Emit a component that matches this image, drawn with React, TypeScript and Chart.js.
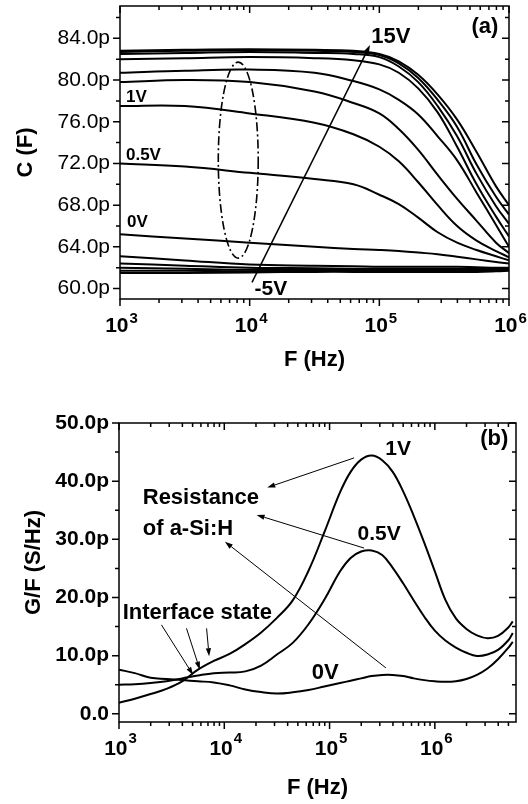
import React, { useEffect, useRef } from "react";
import { Chart, registerables } from "chart.js";

Chart.register(...registerables);

const FONT = '"Liberation Sans", Arial, Helvetica, sans-serif';

// ---------------- Panel (a): C vs F ----------------
const freqA = [1000, 3162, 10000, 31623, 63096, 100000, 141254, 199526, 281838, 398107, 562341, 794328, 1000000];
const cap15V = [82.8, 82.9, 82.95, 82.9, 82.8, 82.5, 81.8, 80.5, 78.6, 76.2, 73.1, 69.8, 68.0];
const capHigh2 = [82.7, 82.8, 82.85, 82.8, 82.7, 82.4, 81.6, 80.2, 78.1, 75.5, 71.9, 68.8, 67.1];
const capHigh3 = [82.5, 82.6, 82.7, 82.6, 82.5, 82.2, 81.3, 79.8, 77.5, 74.6, 71.0, 67.9, 66.2];
const capHigh4 = [82.0, 82.1, 82.2, 82.1, 81.9, 81.5, 80.7, 79.2, 76.9, 73.6, 70.0, 66.9, 65.0];
const capHigh5 = [80.7, 80.9, 81.0, 80.7, 79.9, 79.1, 78.1, 76.7, 74.6, 72.3, 69.2, 66.1, 64.0];
const capHigh6 = [79.8, 80.0, 79.8, 78.9, 77.8, 76.8, 75.3, 73.3, 70.9, 68.6, 66.5, 64.4, 63.4];
const cap1V = [77.5, 77.5, 76.8, 75.9, 74.8, 73.6, 72.2, 70.2, 68.0, 66.0, 64.6, 63.6, 63.0];
const cap05V = [72.0, 71.7, 71.1, 70.5, 70.0, 69.0, 68.1, 66.8, 65.4, 64.4, 63.7, 63.1, 62.7];
const cap0V = [65.2, 64.8, 64.4, 64.0, 63.8, 63.7, 63.6, 63.45, 63.3, 63.05, 62.8, 62.55, 62.4];
const capNeg1 = [63.1, 62.7, 62.3, 62.2, 62.15, 62.1, 62.1, 62.1, 62.1, 62.1, 62.05, 62.0, 62.0];
const capNeg2 = [62.4, 62.2, 62.0, 61.95, 61.9, 61.9, 61.9, 61.9, 61.9, 61.9, 61.9, 61.9, 61.95];
const capNeg3 = [62.0, 61.9, 61.8, 61.8, 61.8, 61.8, 61.8, 61.8, 61.8, 61.8, 61.8, 61.8, 61.85];
const capNeg4 = [61.7, 61.7, 61.65, 61.7, 61.7, 61.7, 61.7, 61.7, 61.7, 61.7, 61.7, 61.7, 61.8];
const capNeg5V = [61.5, 61.5, 61.55, 61.6, 61.6, 61.6, 61.6, 61.6, 61.6, 61.6, 61.6, 61.65, 61.7];
const capNamesA = ["15V", "bias 2", "bias 3", "bias 4", "bias 5", "bias 6", "1V", "0.5V", "0V", "bias -1", "bias -2", "bias -3", "bias -4", "-5V"];
const capSeriesA = [cap15V, capHigh2, capHigh3, capHigh4, capHigh5, capHigh6, cap1V, cap05V, cap0V, capNeg1, capNeg2, capNeg3, capNeg4, capNeg5V];

const yTicksA = [60, 64, 68, 72, 76, 80, 84];
const yMinorA = [62, 66, 70, 74, 78, 82, 86];
const xTicksA = [1e3, 1e4, 1e5, 1e6];

// ---------------- Panel (b): G/F vs F ----------------
const freqB = [1000, 1413, 1995, 2818, 3981, 5623, 7943, 11220, 15849, 22387, 31623, 44668, 63096, 89125, 125893, 158489, 199526, 251189, 316228, 398107, 501187, 630957, 794328, 1000000, 1258925, 1584893, 1995262, 2511886, 3162278, 3981072, 5011872, 5495409];
const gf1V = [1.9, 2.6, 3.4, 4.3, 5.6, 7.6, 9.1, 10.3, 12.0, 14.0, 16.5, 19.5, 24.6, 31.2, 38.1, 41.6, 43.7, 44.4, 43.6, 41.6, 38.2, 34.0, 29.4, 24.5, 19.6, 16.4, 14.6, 13.5, 13.0, 13.4, 14.9, 15.9];
const gf05V = [5.0, 5.1, 5.3, 5.6, 6.1, 6.6, 7.0, 7.1, 7.3, 8.3, 10.2, 12.2, 15.4, 19.6, 24.5, 26.8, 27.9, 28.1, 27.3, 25.1, 22.4, 19.5, 16.7, 14.3, 12.6, 11.4, 10.5, 9.95, 10.2, 11.0, 12.7, 13.9];
const gf0V = [7.6, 7.0, 6.2, 6.0, 5.8, 5.6, 5.4, 4.9, 4.2, 3.75, 3.5, 3.7, 4.1, 4.7, 5.3, 5.7, 6.1, 6.5, 6.7, 6.7, 6.5, 6.1, 5.8, 5.6, 5.5, 5.6, 6.0, 6.7, 7.8, 9.4, 11.4, 12.4];
const gfNamesB = ["1V", "0.5V", "0V"];
const gfSeriesB = [gf1V, gf05V, gf0V];

const yTicksB = [0, 10, 20, 30, 40, 50];
const yMinorB = [5, 15, 25, 35, 45];
const xTicksB = [1e3, 1e4, 1e5, 1e6];

// ---------------- annotations ----------------
type Label = { text: string; f: number; v: number; size: number; align: CanvasTextAlign };
type Arrow = { f0: number; v0: number; f1: number; v1: number; lw: number; head: number };

const labelsA: Label[] = [
  { text: "15V", f: 122700, v: 84.1, size: 22, align: "center" },
  { text: "-5V", f: 14590, v: 59.94, size: 21, align: "center" },
  { text: "(a)", f: 651600, v: 85.1, size: 22, align: "center" },
  { text: "1V", f: 1112, v: 78.37, size: 17, align: "left" },
  { text: "0.5V", f: 1112, v: 72.8, size: 17, align: "left" },
  { text: "0V", f: 1132, v: 66.4, size: 17, align: "left" },
];
const arrowsA: Arrow[] = [{ f0: 10423, v0: 60.6, f1: 84723, v1: 83.36, lw: 1.5, head: 9 }];
const ellipseA = { f: 8166, v: 72.32, rxDecades: 0.154, ryValue: 9.4 };

const labelsB: Label[] = [
  { text: "Interface state", f: 1084, v: 17.4, size: 22, align: "left" },
  { text: "Resistance", f: 1681, v: 37.1, size: 22, align: "left" },
  { text: "of a-Si:H", f: 1681, v: 31.8, size: 22, align: "left" },
  { text: "1V", f: 448700, v: 45.5, size: 21, align: "center" },
  { text: "0.5V", f: 295800, v: 30.9, size: 21, align: "center" },
  { text: "0V", f: 90780, v: 7.1, size: 22, align: "center" },
  { text: "(b)", f: 3673000, v: 47.2, size: 22, align: "center" },
];
const arrowsB: Arrow[] = [
  { f0: 171000, v0: 44.0, f1: 25590, v1: 38.9, lw: 1, head: 8 },
  { f0: 212800, v0: 28.5, f1: 20280, v1: 34.2, lw: 1, head: 8 },
  { f0: 342800, v0: 7.9, f1: 10140, v1: 29.6, lw: 1, head: 8 },
  { f0: 2529, v0: 15.3, f1: 5058, v1: 6.7, lw: 1, head: 8 },
  { f0: 4375, v0: 14.7, f1: 5861, v1: 7.6, lw: 1, head: 8 },
  { f0: 6792, v0: 14.7, f1: 7178, v1: 9.9, lw: 1, head: 8 },
];

function drawArrow(ctx: CanvasRenderingContext2D, x0: number, y0: number, x1: number, y1: number, lw: number, head: number) {
  const ang = Math.atan2(y1 - y0, x1 - x0);
  const bx = x1 - head * Math.cos(ang);
  const by = y1 - head * Math.sin(ang);
  const hw = head * 0.33;
  ctx.save();
  ctx.strokeStyle = "#000";
  ctx.fillStyle = "#000";
  ctx.lineWidth = lw;
  ctx.beginPath();
  ctx.moveTo(x0, y0);
  ctx.lineTo(bx, by);
  ctx.stroke();
  ctx.beginPath();
  ctx.moveTo(x1, y1);
  ctx.lineTo(bx + hw * Math.sin(ang), by - hw * Math.cos(ang));
  ctx.lineTo(bx - hw * Math.sin(ang), by + hw * Math.cos(ang));
  ctx.closePath();
  ctx.fill();
  ctx.restore();
}

type Deco = {
  id: string;
  yMajor: number[];
  yMinor: number[];
  xMajor: number[];
  labelBase: number;
  supBase: number;
  labels: Label[];
  arrows: Arrow[];
  ellipse?: { f: number; v: number; rxDecades: number; ryValue: number };
  yTitle?: { text: string; x: number; dy: number; size: number };
};

function makeDecoPlugin(d: Deco) {
  return {
    id: "deco_" + d.id,
    afterDraw(chart: any) {
      const ctx: CanvasRenderingContext2D = chart.ctx;
      const { left, right, top, bottom } = chart.chartArea;
      const xs = chart.scales.x;
      const ys = chart.scales.y;
      ctx.save();
      ctx.strokeStyle = "#000";
      ctx.fillStyle = "#000";
      ctx.lineWidth = 1.5;
      ctx.strokeRect(left, top, right - left, bottom - top);

      const yTick = (vals: number[], len: number) => {
        vals.forEach((v) => {
          const py = ys.getPixelForValue(v);
          if (py < top - 0.5 || py > bottom + 0.5) return;
          ctx.beginPath();
          ctx.moveTo(left, py);
          ctx.lineTo(left - len, py);
          ctx.moveTo(right, py);
          ctx.lineTo(right - len, py);
          ctx.stroke();
        });
      };
      yTick(d.yMajor, 7);
      yTick(d.yMinor, 4);

      const xMinor: number[] = [];
      d.xMajor.forEach((dec) => {
        for (let k = 2; k <= 9; k++) xMinor.push(dec * k);
      });
      const xTick = (vals: number[], len: number) => {
        vals.forEach((v) => {
          if (v < xs.min || v > xs.max) return;
          const px = xs.getPixelForValue(v);
          ctx.beginPath();
          ctx.moveTo(px, bottom);
          ctx.lineTo(px, bottom + len);
          ctx.moveTo(px, top);
          ctx.lineTo(px, top + len);
          ctx.stroke();
        });
      };
      xTick(d.xMajor, 7);
      xTick(xMinor, 4);

      d.xMajor.forEach((v) => {
        const px = xs.getPixelForValue(v);
        const exp = String(Math.round(Math.log10(v)));
        ctx.font = `bold 21px ${FONT}`;
        const w10 = ctx.measureText("10").width;
        ctx.font = `bold 15px ${FONT}`;
        const ws = ctx.measureText(exp).width;
        const total = w10 + 1 + ws;
        const sx = px + 1.5 - total / 2;
        ctx.textAlign = "left";
        ctx.textBaseline = "alphabetic";
        ctx.font = `bold 21px ${FONT}`;
        ctx.fillText("10", sx, bottom + d.labelBase);
        ctx.font = `bold 15px ${FONT}`;
        ctx.fillText(exp, sx + w10 + 1, bottom + d.supBase);
      });

      if (d.yTitle) {
        ctx.save();
        ctx.translate(d.yTitle.x, (top + bottom) / 2 + d.yTitle.dy);
        ctx.rotate(-Math.PI / 2);
        ctx.textAlign = "center";
        ctx.textBaseline = "middle";
        ctx.font = `bold ${d.yTitle.size}px ${FONT}`;
        ctx.fillText(d.yTitle.text, 0, 0);
        ctx.restore();
      }

      if (d.ellipse) {
        const e = d.ellipse;
        const cx = xs.getPixelForValue(e.f);
        const rx = xs.getPixelForValue(e.f * Math.pow(10, e.rxDecades)) - cx;
        const cy = ys.getPixelForValue(e.v);
        const ry = ys.getPixelForValue(e.v - e.ryValue) - cy;
        ctx.save();
        ctx.lineWidth = 1.6;
        ctx.setLineDash([9, 3, 2, 3]);
        ctx.beginPath();
        ctx.ellipse(cx, cy, Math.abs(rx), Math.abs(ry), 0, 0, Math.PI * 2);
        ctx.stroke();
        ctx.restore();
      }

      d.arrows.forEach((a) => {
        drawArrow(ctx, xs.getPixelForValue(a.f0), ys.getPixelForValue(a.v0), xs.getPixelForValue(a.f1), ys.getPixelForValue(a.v1), a.lw, a.head);
      });

      d.labels.forEach((l) => {
        ctx.font = `bold ${l.size}px ${FONT}`;
        ctx.textAlign = l.align;
        ctx.textBaseline = "middle";
        ctx.fillText(l.text, xs.getPixelForValue(l.f), ys.getPixelForValue(l.v));
      });
      ctx.restore();
    },
  };
}

function makeConfig(opts: {
  freq: number[];
  series: number[][];
  names: string[];
  xMax: number;
  yMin: number;
  yMax: number;
  yTicks: number[];
  yFmt: (v: number) => string;
  yBold: boolean;
  yWidth: number;
  xHeight: number;
  yTitle: string | null;
  yTitlePad: number;
  xTitlePad: number;
  padding: { left: number; right: number; top: number; bottom: number };
  deco: Deco;
}): any {
  return {
    type: "line",
    data: {
      datasets: opts.series.map((vals, i) => ({
        label: opts.names[i],
        data: opts.freq.map((f, j) => ({ x: f, y: vals[j] })),
        borderColor: "#000",
        borderWidth: 2,
        pointRadius: 0,
        fill: false,
        tension: 0.4,
        cubicInterpolationMode: "default",
      })),
    },
    options: {
      responsive: false,
      animation: false,
      devicePixelRatio: 1,
      events: [],
      layout: { padding: opts.padding },
      plugins: { legend: { display: false }, tooltip: { enabled: false } },
      scales: {
        x: {
          type: "logarithmic",
          min: 1000,
          max: opts.xMax,
          grid: { display: false, drawTicks: false },
          border: { display: false },
          ticks: { display: false },
          afterFit: (axis: any) => {
            axis.height = opts.xHeight;
            axis.paddingLeft = 0;
            axis.paddingRight = 0;
          },
          title: {
            display: true,
            text: "F (Hz)",
            color: "#000",
            font: { family: FONT, size: 22, weight: "bold" },
            padding: { top: 0, bottom: opts.xTitlePad },
          },
        },
        y: {
          type: "linear",
          min: opts.yMin,
          max: opts.yMax,
          afterBuildTicks: (axis: any) => {
            axis.ticks = opts.yTicks.map((v) => ({ value: v }));
          },
          afterFit: (axis: any) => {
            axis.width = opts.yWidth;
            axis.paddingTop = 0;
            axis.paddingBottom = 0;
          },
          grid: { display: false, drawTicks: false },
          border: { display: false },
          ticks: {
            color: "#000",
            padding: 10,
            font: { family: FONT, size: 21, weight: opts.yBold ? "bold" : "normal" },
            callback: (v: any) => opts.yFmt(Number(v)),
          },
          title: {
            display: opts.yTitle !== null,
            text: opts.yTitle || "",
            color: "#000",
            font: { family: FONT, size: 22, weight: "bold" },
            padding: { top: opts.yTitlePad, bottom: 0 },
          },
        },
      },
    },
    plugins: [makeDecoPlugin(opts.deco)],
  };
}

export default function App() {
  const refA = useRef<HTMLCanvasElement | null>(null);
  const refB = useRef<HTMLCanvasElement | null>(null);

  useEffect(() => {
    if (!refA.current || !refB.current) return;
    const chartA = new Chart(
      refA.current,
      makeConfig({
        freq: freqA,
        series: capSeriesA,
        names: capNamesA,
        xMax: 1e6,
        yMin: 59,
        yMax: 87.1,
        yTicks: yTicksA,
        yFmt: (v) => v.toFixed(1) + "p",
        yBold: false,
        yWidth: 120,
        xHeight: 101,
        yTitle: "C (F)",
        yTitlePad: 13,
        xTitlePad: 27,
        padding: { left: 0, right: 19, top: 6, bottom: 0 },
        deco: {
          id: "a",
          yMajor: yTicksA,
          yMinor: yMinorA,
          xMajor: xTicksA,
          labelBase: 33,
          supBase: 24,
          labels: labelsA,
          arrows: arrowsA,
          ellipse: ellipseA,
        },
      })
    );
    const chartB = new Chart(
      refB.current,
      makeConfig({
        freq: freqB,
        series: gfSeriesB,
        names: gfNamesB,
        xMax: 5.9e6,
        yMin: -1.4,
        yMax: 50,
        yTicks: yTicksB,
        yFmt: (v) => (v === 0 ? "0.0" : v.toFixed(1) + "p"),
        yBold: true,
        yWidth: 119,
        xHeight: 82,
        yTitle: null,
        yTitlePad: 0,
        xTitlePad: 3,
        padding: { left: 0, right: 12, top: 23, bottom: 0 },
        deco: {
          id: "b",
          yMajor: yTicksB,
          yMinor: yMinorB,
          xMajor: xTicksB,
          labelBase: 33,
          supBase: 21,
          labels: labelsB,
          arrows: arrowsB,
          yTitle: { text: "G/F (S/Hz)", x: 34, dy: -10, size: 22 },
        },
      })
    );
    return () => {
      chartA.destroy();
      chartB.destroy();
    };
  }, []);

  return (
    <div style={{ position: "absolute", left: 0, top: 0, width: 528, height: 804, background: "#fff" }}>
      <canvas ref={refA} width={528} height={400} style={{ position: "absolute", left: 0, top: 0, display: "block" }} />
      <canvas ref={refB} width={528} height={404} style={{ position: "absolute", left: 0, top: 400, display: "block" }} />
    </div>
  );
}
